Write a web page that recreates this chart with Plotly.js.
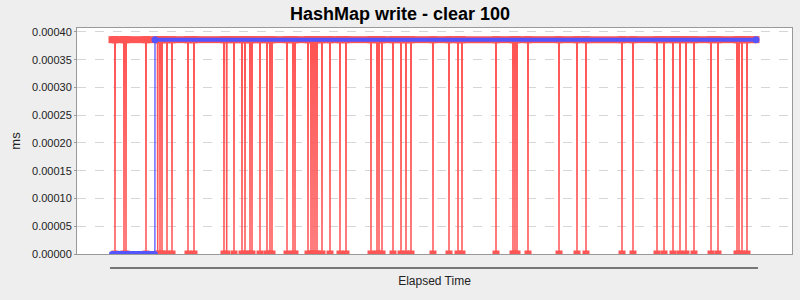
<!DOCTYPE html>
<html>
<head>
<meta charset="utf-8">
<script src="https://cdn.plot.ly/plotly-3.0.1.min.js"></script>
<style>html,body{margin:0;padding:0;background:#EEEEEE;}#chart{width:800px;height:300px;}</style>
</head>
<body>
<div id="chart"></div>
<script>
// ---- data ----
const chartTitle = "HashMap write - clear 100";
const xTitle = "Elapsed Time";
const yTitle = "ms";
const yTickValues = [0, 0.00005, 0.0001, 0.00015, 0.0002, 0.00025, 0.0003, 0.00035, 0.0004];

// red series ("write"): level and elapsed times where the sample was 0 ms
const redStart = 0;
const redEnd = 644;
const redLevel = 0.000386;
const redZeroTimes = [3, 12, 14, 34, 45.7, 48, 50, 55, 60, 76, 82, 112, 114.7, 122, 130, 133, 138, 140,
  148, 155, 158, 160, 175, 181, 183, 196, 199, 201, 203, 205, 210, 218, 228, 234, 259, 265, 267, 270,
  281, 289, 294, 299, 321, 337, 346, 350, 384, 401, 403, 405, 416, 447, 465, 474, 510, 521, 545, 552,
  561, 568, 574, 582, 599, 606, 625, 627, 630, 635];

// blue series ("clear")
const blueTimes = [0, 42.9, 43, 644];
const blueValues = [0, 0, 0.000386, 0.000386];

const RED = "#FF5555";
const BLUE = "#5555FF";

// build red samples from level + zero times
const redTimes = [redStart], redValues = [redLevel];
redZeroTimes.forEach(d => {
  redTimes.push(d - 0.25, d, d + 0.25);
  redValues.push(redLevel, 0, redLevel);
});
redTimes.push(redEnd); redValues.push(redLevel);

function onlyHigh(v) { return v.map(a => a > 0 ? a : null); }
function onlyZero(v) { return v.map(a => a > 0 ? null : a); }

const traces = [
  {x: redTimes, y: redValues, mode: "lines", line: {color: RED, width: 1.5}, hoverinfo: "skip"},
  {x: redTimes, y: onlyHigh(redValues), mode: "lines+markers", connectgaps: false,
   line: {color: RED, width: 7}, marker: {symbol: "square", size: 7, color: RED}, hoverinfo: "skip"},
  {x: redTimes, y: onlyZero(redValues), mode: "lines+markers", connectgaps: false, cliponaxis: true,
   line: {color: RED, width: 7}, marker: {symbol: "square", size: 7, color: RED}, hoverinfo: "skip"},
  {x: blueTimes, y: blueValues, mode: "lines", line: {color: BLUE, width: 1.3}, hoverinfo: "skip"},
  {x: blueTimes, y: onlyHigh(blueValues), mode: "lines+markers", connectgaps: false,
   line: {color: BLUE, width: 4}, marker: {symbol: "circle", size: 7, color: BLUE}, hoverinfo: "skip"},
  {x: blueTimes, y: onlyZero(blueValues), mode: "lines+markers", connectgaps: false, cliponaxis: true,
   line: {color: BLUE, width: 6}, marker: {symbol: "circle", size: 6, color: BLUE}, hoverinfo: "skip"}
];

const layout = {
  width: 800, height: 300,
  paper_bgcolor: "#EEEEEE", plot_bgcolor: "#FFFFFF",
  margin: {l: 77, r: 8, t: 28, b: 46},
  showlegend: false,
  font: {family: "Liberation Sans, Arial, sans-serif", color: "#333333", size: 11},
  title: {text: "<b>" + chartTitle + "</b>", x: 0.5, xanchor: "center", y: 0.955, yanchor: "middle",
          font: {family: "Liberation Sans, Arial, sans-serif", size: 18, color: "#000000"}},
  xaxis: {
    range: [redStart - 35, redEnd + 36], showticklabels: false, ticks: "", showgrid: false, zeroline: false,
    showline: true, linecolor: "#999999", linewidth: 1, mirror: true,
    title: {text: xTitle, standoff: 22, font: {size: 12, color: "#222222"}}
  },
  yaxis: {
    range: [0, 0.000407], tickvals: yTickValues, tickformat: ".5f",
    ticks: "outside", ticklen: 2, tickcolor: "#999999",
    showgrid: true, gridcolor: "#D6D6D6", griddash: "dash", gridwidth: 1, zeroline: false,
    showline: true, linecolor: "#999999", linewidth: 1, mirror: true,
    tickfont: {size: 11, color: "#222222"},
    title: {text: yTitle, standoff: 8, font: {size: 13, color: "#222222"}}
  },
  shapes: [{type: "line", xref: "x", yref: "paper", x0: redStart - 2, x1: redEnd + 2,
            y0: -0.062, y1: -0.062, line: {color: "#000000", width: 1.2}}]
};

Plotly.newPlot("chart", traces, layout, {staticPlot: true, displayModeBar: false});
</script>
</body>
</html>
